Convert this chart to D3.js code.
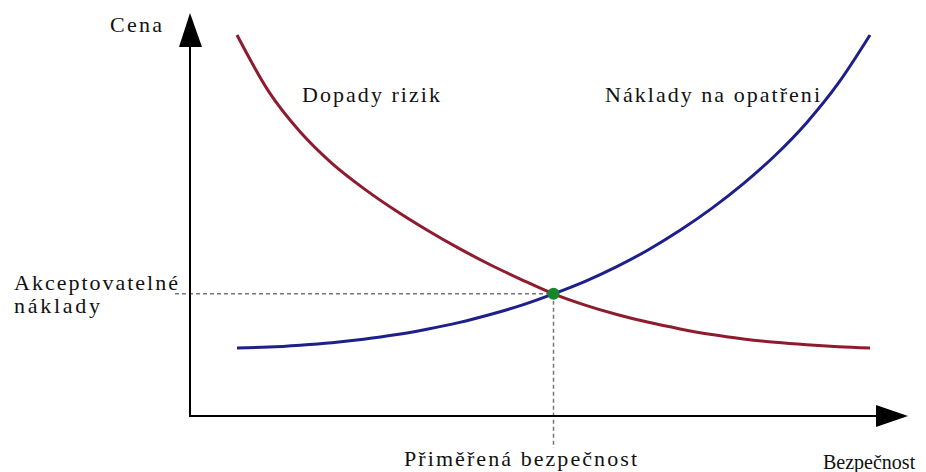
<!DOCTYPE html>
<html>
<head>
<meta charset="utf-8">
<script src="https://cdn.jsdelivr.net/npm/d3@7"></script>
<style>
  body { margin: 0; background: #fff; }
</style>
</head>
<body>
<div id="chart"></div>
<script>
// values (abstract units 0-100)
var bezpecnost = [0, 5, 10, 15, 20, 25, 30, 35, 40, 45, 50, 55, 60, 65, 70, 75, 80, 85, 90, 95, 100];
var dopadyRizik = [100, 82, 69, 59, 51, 44, 37.7, 31.9, 26.6, 21.8, 17.3, 13.7, 10.7, 8.2, 6.1, 4.3, 2.9, 1.8, 1, 0.4, 0];
var nakladyOpatreni = [0, 0.3, 0.9, 1.7, 2.8, 4.2, 6, 8.1, 10.7, 13.7, 17.3, 21.3, 26, 31.4, 37.6, 44.6, 52.5, 61.5, 72, 84.6, 100];
var optimum = {x: 50, y: 17.3};

var width = 926, height = 472;
var origin = {x: 190, y: 416};

var x = d3.scaleLinear().domain([0, 100]).range([237, 870]);
var y = d3.scaleLinear().domain([0, 100]).range([348, 35]);

var svg = d3.select("#chart")
  .append("svg")
    .attr("width", width)
    .attr("height", height);

// dashed guides
svg.append("line")
    .attr("x1", 175).attr("x2", x(optimum.x))
    .attr("y1", y(optimum.y)).attr("y2", y(optimum.y))
    .attr("stroke", "#777").attr("stroke-width", 1.5)
    .attr("stroke-dasharray", "4,3");
svg.append("line")
    .attr("x1", x(optimum.x)).attr("x2", x(optimum.x))
    .attr("y1", y(optimum.y)).attr("y2", 448)
    .attr("stroke", "#777").attr("stroke-width", 1.5)
    .attr("stroke-dasharray", "4,3");

// axes with arrows
svg.append("line")
    .attr("x1", origin.x).attr("x2", origin.x)
    .attr("y1", origin.y + 1).attr("y2", 45)
    .attr("stroke", "#000").attr("stroke-width", 2);
svg.append("path")
    .attr("d", "M190,13L179,47L202,47Z")
    .attr("fill", "#000");
svg.append("line")
    .attr("x1", origin.x - 1).attr("x2", 878)
    .attr("y1", origin.y).attr("y2", origin.y)
    .attr("stroke", "#000").attr("stroke-width", 2);
svg.append("path")
    .attr("d", "M908,416L876,405L876,427Z")
    .attr("fill", "#000");

var line = d3.line()
  .x(function(d) { return x(d[0]); })
  .y(function(d) { return y(d[1]); })
  .curve(d3.curveMonotoneX);

svg.append("path")
    .datum(bezpecnost.map(function(b, i) { return [b, dopadyRizik[i]]; }))
    .attr("d", line)
    .attr("fill", "none")
    .attr("stroke", "#8e1b2e")
    .attr("stroke-width", 3);

svg.append("path")
    .datum(bezpecnost.map(function(b, i) { return [b, nakladyOpatreni[i]]; }))
    .attr("d", line)
    .attr("fill", "none")
    .attr("stroke", "#1f1f8a")
    .attr("stroke-width", 3);

svg.append("circle")
    .attr("cx", x(optimum.x))
    .attr("cy", y(optimum.y))
    .attr("r", 6)
    .attr("fill", "#14862c");

// labels
function label(txt, px, py, len, size) {
  var t = svg.append("text")
      .attr("x", px).attr("y", py)
      .attr("font-family", "'Liberation Serif', 'Times New Roman', serif")
      .attr("font-size", size || 22)
      .attr("fill", "#111")
      .text(txt);
  if (len) t.attr("textLength", len).attr("lengthAdjust", "spacing");
}
label("Cena", 110, 32, 52);
label("Dopady rizik", 302, 102, 138);
label("Náklady na opatřeni", 605, 102, 215);
label("Akceptovatelné", 14, 290, 164);
label("náklady", 14, 313, 86);
label("Přiměřená bezpečnost", 404, 466, 233);
label("Bezpečnost", 823, 469, null, 20);
</script>
</body>
</html>
